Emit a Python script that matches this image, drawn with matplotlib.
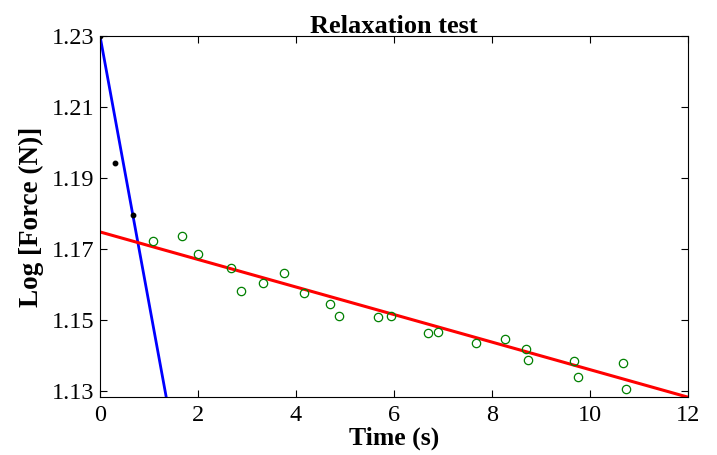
import numpy as np
import matplotlib.pyplot as plt

# early (fast) relaxation points
t_fast = [0.0, 0.31, 0.67]
logf_fast = [1.2300, 1.1942, 1.1796]

# later (slow) relaxation points
t_slow = [1.075, 1.680, 1.994, 2.667, 2.878, 3.320, 3.761, 4.157, 4.688, 4.871,
          5.680, 5.939, 6.688, 6.904, 7.680, 8.265, 8.688, 8.741, 9.673, 9.749,
          10.680, 10.741]
logf_slow = [1.1723, 1.1737, 1.1685, 1.1646, 1.1581, 1.1605, 1.1633, 1.1575, 1.1545, 1.1512,
             1.1508, 1.1510, 1.1464, 1.1467, 1.1434, 1.1447, 1.1417, 1.1387, 1.1383, 1.1338,
             1.1378, 1.1305]

# fitted lines: intercept, slope
fast_fit = (1.2300, -0.0753)
slow_fit = (1.1748, -0.00388)

plt.rcParams['font.family'] = ['Liberation Serif', 'DejaVu Serif']

fig = plt.figure(figsize=(7.17, 4.55), dpi=100)
ax = fig.add_axes([0.1395, 0.1275, 0.8201, 0.7934])

xx = np.linspace(0, 12, 200)
ax.plot(xx, fast_fit[0] + fast_fit[1] * xx, color='#0000ff', lw=2.0)
ax.plot(xx, slow_fit[0] + slow_fit[1] * xx, color='#ff0000', lw=2.2)
ax.plot(t_slow, logf_slow, 'o', mfc='none', mec='#008000', ms=6, mew=0.9)
ax.plot(t_fast, logf_fast, 'o', color='k', ms=3.2)

ax.set_xlim(0, 12)
ax.set_ylim(1.1283, 1.23)
ax.set_xticks([0, 2, 4, 6, 8, 10, 12])
ax.set_yticks([1.13, 1.15, 1.17, 1.19, 1.21, 1.23])
ax.set_yticklabels(['1.13', '1.15', '1.17', '1.19', '1.21', '1.23'])
ax.tick_params(direction='in', top=True, right=True, length=5, width=0.8,
               labelsize=17.5)
ax.tick_params(axis='x', pad=6)
ax.tick_params(axis='y', pad=4)
for s in ax.spines.values():
    s.set_linewidth(0.8)

ax.set_xlabel('Time (s)', fontsize=18.5, fontweight='bold', labelpad=0)
ax.set_ylabel('Log [Force (N)]', fontsize=19.5, fontweight='bold', labelpad=6)
ax.set_title('Relaxation test', fontsize=19, fontweight='bold', pad=2)

fig.savefig('out.png', dpi=100)
